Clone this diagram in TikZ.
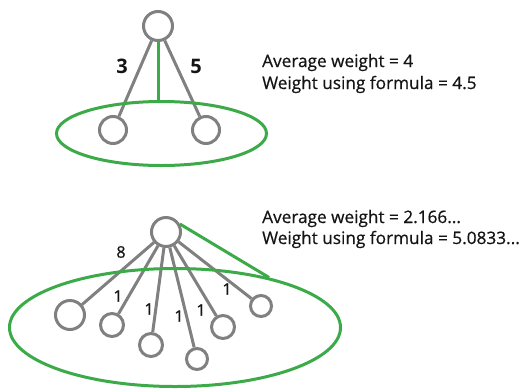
\documentclass[tikz,border=0pt]{standalone}
\usepackage{fontspec}
\setmainfont{Open Sans}
\newfontfamily\infofont{Open Sans}[FakeBold=0.6]
\usetikzlibrary{shapes.geometric}
\definecolor{grn}{RGB}{60,170,72}
\definecolor{gry}{RGB}{128,128,128}
\definecolor{txt}{RGB}{20,20,20}
\begin{document}
\begin{tikzpicture}[x=1pt,y=-1pt,
 vert/.style={circle,draw=gry,line width=3pt,inner sep=0pt},
 edge/.style={draw=gry,line width=3pt},
 grp/.style={ellipse,draw=grn,line width=3pt,inner sep=0pt},
 gline/.style={draw=grn,line width=3pt},
 info/.style={anchor=base west,text=txt,font=\infofont\fontsize{17.2}{20}\selectfont,inner sep=0pt},
 wb/.style={text=txt,font=\bfseries\fontsize{20}{24}\selectfont,inner sep=0pt},
 wl/.style={text=txt,font=\infofont\fontsize{16}{19}\selectfont,inner sep=0pt}]
\useasboundingbox (0,0) rectangle (521,389);
% top diagram
\node[vert,minimum size=29pt] (r1) at (158,26) {};
\node[vert,minimum size=27pt] (a1) at (113,130) {};
\node[vert,minimum size=27pt] (a2) at (206,130) {};
\draw[edge] (r1) -- (a1);
\draw[edge] (r1) -- (a2);
\node[grp,minimum width=210pt,minimum height=64pt] (e1) at (161.5,133.5) {};
\draw[gline] (r1) -- (r1 |- e1.north);
\node[wb] (l3) at (122,66) {3};
\node[wb] (l5) at (196,66) {5};
\node[info] (t1) at (262,67) {Average weight = 4};
\node[info] (t2) at (262,89) {Weight using formula = 4.5};
% bottom diagram
\node[vert,minimum size=29pt] (r2) at (166,232) {};
\node[vert,minimum size=29pt] (b1) at (70,315) {};
\node[vert,minimum size=23pt] (b2) at (112,325) {};
\node[vert,minimum size=23pt] (b3) at (151,345) {};
\node[vert,minimum size=21pt] (b4) at (197,359) {};
\node[vert,minimum size=23pt] (b5) at (223,327) {};
\node[vert,minimum size=21pt] (b6) at (261,306) {};
\foreach \c in {b1,b2,b3,b4,b5,b6} \draw[edge] (r2) -- (\c);
\node[grp,minimum width=331pt,minimum height=118pt] (e2) at (175,327.5) {};
\draw[gline] (r2.30) -- (e2.28);
\node[wl] (l8) at (121,252) {8};
\node[wl] (m1) at (118,296) {1};
\node[wl] (m2) at (149,309) {1};
\node[wl] (m3) at (179,316) {1};
\node[wl] (m4) at (201,310) {1};
\node[wl] (m5) at (227,289) {1};
\node[info] (t3) at (262,223) {Average weight = 2.166...};
\node[info] (t4) at (262,244) {Weight using formula = 5.0833...};
\end{tikzpicture}
\end{document}
